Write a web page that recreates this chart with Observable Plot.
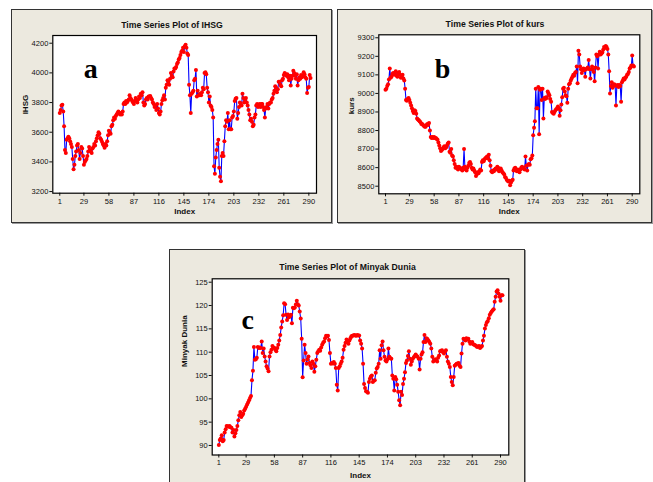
<!DOCTYPE html>
<html><head><meta charset="utf-8">
<script src="https://cdn.jsdelivr.net/npm/d3@7"></script>
<script src="https://cdn.jsdelivr.net/npm/@observablehq/plot@0.6"></script>
<style>
html,body{margin:0;padding:0;background:#fff;}
body{width:653px;height:482px;overflow:hidden;position:relative;font-family:"Liberation Sans",Arial,sans-serif;}
.panel{position:absolute;box-sizing:border-box;background:#ECE9DF;border:1px solid #333;box-shadow:1px 1px 0 #999;}
.chart{position:absolute;}
.chart svg{display:block;overflow:visible;}
</style></head><body>
<script>
const xTickLabels = [1,29,58,87,116,145,174,203,232,261,290];

const ihsgTicks = [3200,3400,3600,3800,4000,4200];
const kursTicks = [8500,8600,8700,8800,8900,9000,9100,9200,9300];
const minyakTicks = [90,95,100,105,110,115,120,125];

const ihsg = [
3730,3750,3780,3785,3740,3640,3480,3460,3550,3560,
3570,3560,3540,3520,3500,3420,3350,3380,3440,3470,
3510,3520,3480,3420,3460,3500,3490,3440,3380,3400,
3410,3420,3440,3470,3500,3480,3470,3460,3490,3500,
3520,3510,3540,3560,3580,3600,3590,3560,3550,3535,
3520,3510,3495,3520,3510,3540,3580,3610,3600,3590,
3640,3650,3680,3700,3690,3710,3720,3730,3740,3730,
3720,3730,3720,3740,3790,3800,3790,3810,3800,3810,
3820,3850,3830,3820,3810,3800,3790,3810,3830,3810,
3800,3820,3840,3830,3860,3850,3870,3800,3780,3790,
3820,3830,3820,3840,3840,3845,3830,3820,3800,3790,
3770,3780,3750,3790,3760,3730,3720,3740,3790,3815,
3830,3850,3820,3900,3920,3950,3940,3920,3960,4000,
3980,3970,4010,4030,4030,4040,4060,4070,4090,4100,
4120,4140,4150,4170,4140,4180,4190,4170,4130,4120,
3920,3850,3730,3860,3870,3880,3950,3960,4020,3840,
3880,3850,3850,3860,3850,3870,3900,3890,4000,4005,
3990,3900,3870,3800,3840,3780,3770,3750,3700,3370,
3320,3430,3480,3520,3550,3360,3300,3270,3440,3460,
3440,3540,3640,3680,3670,3730,3620,3680,3620,3620,
3700,3710,3740,3810,3825,3830,3690,3730,3770,3800,
3790,3780,3860,3830,3800,3820,3830,3800,3780,3750,
3720,3680,3690,3670,3640,3650,3700,3720,3780,3790,
3770,3780,3790,3770,3790,3790,3770,3750,3700,3760,
3770,3790,3760,3790,3800,3800,3820,3830,3860,3880,
3910,3900,3870,3890,3940,3940,3920,3910,3950,3960,
3985,4000,3990,3980,3990,3970,3950,3980,3915,3960,
3980,4015,4000,3980,3960,3990,3915,3950,3970,3960,
3985,3970,3980,4005,3990,3970,3960,3865,3900,3905,
3985,3965
];

const kurs = [
9020,9025,9040,9050,9075,9135,9085,9090,9105,9110,
9100,9110,9120,9095,9090,9110,9115,9100,9085,9090,
9100,9080,9070,9025,8965,8960,8970,8975,8965,8950,
8935,8920,8905,8895,8910,8905,8890,8865,8860,8855,
8850,8845,8835,8835,8830,8825,8820,8820,8830,8835,
8830,8840,8800,8765,8760,8765,8760,8765,8760,8760,
8755,8750,8735,8720,8705,8690,8695,8700,8710,8715,
8705,8710,8720,8730,8735,8685,8680,8700,8665,8660,
8640,8620,8600,8605,8595,8590,8605,8600,8595,8590,
8585,8600,8700,8605,8590,8585,8600,8610,8625,8630,
8620,8600,8590,8595,8585,8575,8555,8565,8575,8570,
8580,8590,8585,8630,8640,8635,8645,8650,8655,8660,
8650,8670,8640,8610,8580,8575,8585,8580,8590,8595,
8590,8605,8600,8580,8590,8595,8585,8575,8570,8565,
8550,8545,8535,8530,8525,8530,8505,8520,8530,8535,
8585,8595,8600,8585,8580,8590,8580,8575,8590,8600,
8605,8595,8600,8590,8660,8610,8585,8615,8620,8615,
8645,8650,8665,8775,8815,8850,9025,8920,8920,9035,
8780,9020,9025,8965,9025,8865,8975,8970,8980,8975,
9010,9000,8990,8970,8955,8900,8895,8890,8900,8910,
8915,8920,8930,8920,8880,8910,8940,8980,9025,9030,
9010,8990,8985,8950,9025,9050,9055,9070,9080,9090,
9100,9095,9110,9115,9145,9055,9230,9210,9145,9130,
9110,9125,9135,9125,9090,9130,9135,9140,9180,9130,
9080,9130,9145,9130,9115,9065,9140,9210,9200,9135,
9210,9225,9210,9215,9220,9235,9250,9245,9255,9250,
9240,9210,9120,9000,9040,9060,9030,9040,9050,9045,
8935,9040,9045,9035,9045,9040,8955,9060,9070,9080,
9075,9085,9090,9100,9105,9115,9135,9140,9150,9205,
9150,9145
];

const minyak = [
90.1,91.2,91.5,92.2,90.9,91.2,92.8,93.5,94.2,94.1,
94.0,94.2,93.9,93.8,92.8,93.3,91.9,92.6,93.3,94.2,
95.4,96.5,97.2,96.1,96.5,96.8,97.5,97.9,98.3,98.8,
99.2,99.7,100.2,100.6,104.0,106.0,111.1,108.4,108.5,108.8,
111.1,110.9,111.0,110.9,112.3,109.8,110.8,109.1,108.0,107.0,
106.5,105.9,109.1,110.0,110.5,111.3,111.0,110.9,110.5,110.2,
110.9,111.6,112.5,113.7,115.3,116.6,117.9,120.5,120.3,118.0,
116.9,118.1,117.5,117.7,118.0,116.2,119.5,119.4,119.6,120.2,
121.0,120.3,120.0,118.7,117.2,112.9,104.6,108.2,111.6,109.8,
107.5,108.5,109.1,107.7,107.2,106.6,108.0,107.5,105.8,107.0,
108.4,109.8,110.2,110.5,110.3,111.0,111.6,112.0,112.3,113.0,
113.5,113.4,113.5,112.6,109.8,107.5,107.7,107.6,107.9,107.5,
106.6,103.0,101.8,106.6,107.0,107.5,108.0,108.8,110.5,111.3,
112.0,112.7,112.3,111.8,112.5,113.0,113.4,113.5,113.6,113.7,
113.6,113.5,113.7,113.6,113.6,112.5,111.8,110.8,107.5,103.2,
102.3,101.6,101.5,101.3,103.6,104.3,104.8,105.0,103.6,103.9,
104.0,105.6,106.5,106.8,107.5,110.4,108.6,111.5,112.3,110.4,
109.0,108.2,108.0,108.5,110.8,109.0,108.7,108.6,105.0,104.3,
101.8,104.7,104.2,103.0,101.5,99.7,98.6,101.5,100.8,103.2,
104.3,105.7,107.7,108.2,109.2,110.2,108.6,107.3,108.0,108.6,
108.9,109.2,109.5,109.2,109.0,108.6,106.3,108.6,109.5,110.0,
112.2,113.7,112.2,113.0,112.8,112.5,112.2,111.8,110.8,109.0,
108.0,108.3,108.5,108.2,108.0,108.8,109.3,110.2,110.3,110.4,
110.0,109.7,110.1,110.4,109.0,108.0,107.5,106.8,104.7,103.6,
102.9,104.7,107.1,107.3,107.5,107.6,107.7,107.1,106.8,109.7,
111.8,112.9,112.7,112.5,113.0,112.8,112.9,112.3,111.8,112.0,
112.2,111.7,111.6,111.5,111.3,111.1,111.2,111.3,110.9,111.1,
111.3,112.5,113.5,115.1,115.8,116.4,116.7,117.3,118.0,118.4,
118.7,119.0,119.2,120.8,121.9,123.0,123.3,122.6,121.9,121.0,
122.2,122.2
];

const titles = ["Time Series Plot of IHSG", "Time Series Plot of kurs", "Time Series Plot of Minyak Dunia"];
const yLabels = ["IHSG", "kurs", "Minyak Dunia"];
const letters = ["a", "b", "c"];

function makePanel(cfg) {
  const {box, plot, values, yTicks, xDomain, yDomain, title, ylab, letter, titleX, titleBase, indexBase, ylabX, letterPos} = cfg;
  const W = box.x1 - box.x0, H = box.y1 - box.y0;
  const bg = document.createElement("div");
  bg.className = "panel";
  Object.assign(bg.style, {left: box.x0 + "px", top: box.y0 + "px", width: W + "px", height: H + "px"});
  document.body.appendChild(bg);

  const data = values.map((v, i) => ({i: i + 1, v}));
  const pcx = (plot.x0 + plot.x1) / 2;
  const chart = Plot.plot({
    width: W, height: H,
    marginLeft: plot.x0 - box.x0, marginRight: box.x1 - plot.x1,
    marginTop: plot.y0 - box.y0, marginBottom: box.y1 - plot.y1,
    style: {background: "transparent", fontFamily: "'Liberation Sans', Arial, sans-serif", fontSize: "7.5px", color: "#111", overflow: "visible"},
    x: {domain: xDomain},
    y: {domain: yDomain},
    marks: [
      Plot.frame({fill: "white"}),
      Plot.axisX({ticks: xTickLabels, tickSize: 3, tickPadding: 2, tickFormat: d => String(d), label: null}),
      Plot.axisY({ticks: yTicks, tickSize: 3, tickPadding: 1.5, tickFormat: d => String(d), label: null}),
      Plot.line(data, {x: "i", y: "v", stroke: "#0000ff", strokeWidth: 1.1}),
      Plot.dot(data, {x: "i", y: "v", r: 2, fill: "#ff0000", stroke: "none"}),
      Plot.frame({stroke: "black", strokeWidth: 1.2}),
      Plot.text([title], {text: d => d, frameAnchor: "top", dx: titleX - pcx, dy: titleBase - plot.y0, lineAnchor: "bottom", fontSize: 8.7, fontWeight: "bold", fill: "#111"}),
      Plot.text(["Index"], {text: d => d, frameAnchor: "bottom", dy: indexBase - plot.y1, lineAnchor: "bottom", fontSize: 8, fontWeight: "bold", fill: "#111"}),
      Plot.text([ylab], {text: d => d, frameAnchor: "left", dx: ylabX - plot.x0, rotate: -90, fontSize: 8, fontWeight: "bold", fill: "#111"}),
      Plot.text([letter], {text: d => d, frameAnchor: "top-left", dx: letterPos[0] - plot.x0, dy: letterPos[1] - plot.y0, lineAnchor: "bottom", textAnchor: "start", fontFamily: "'Liberation Serif', 'DejaVu Serif', serif", fontWeight: "bold", fontSize: 28, fill: "#000"})
    ]
  });
  const wrap = document.createElement("div");
  wrap.className = "chart";
  Object.assign(wrap.style, {left: box.x0 + "px", top: box.y0 + "px", width: W + "px", height: H + "px"});
  wrap.appendChild(chart);
  document.body.appendChild(wrap);
}

makePanel({
  box: {x0: 11, y0: 9, x1: 332, y1: 223},
  plot: {x0: 52.3, y0: 35, x1: 316, y1: 192.7},
  values: ihsg, yTicks: ihsgTicks,
  xDomain: [-7.1, 298.9], yDomain: [3189, 4252],
  title: titles[0], ylab: yLabels[0], letter: letters[0],
  titleX: 171.5, titleBase: 27.7, indexBase: 213.5, ylabX: 25, letterPos: [83.3, 77.3]
});
makePanel({
  box: {x0: 337, y0: 9, x1: 652, y1: 223},
  plot: {x0: 378.3, y0: 34.3, x1: 639.3, y1: 193.3},
  values: kurs, yTicks: kursTicks,
  xDomain: [-6.85, 298.9], yDomain: [8459, 9316],
  title: titles[1], ylab: yLabels[1], letter: letters[1],
  titleX: 494.5, titleBase: 26.7, indexBase: 213.5, ylabX: 350.5, letterPos: [434.3, 77.3]
});
makePanel({
  box: {x0: 169, y0: 249, x1: 525, y1: 490},
  plot: {x0: 211.7, y0: 278.3, x1: 508.3, y1: 454.5},
  values: minyak, yTicks: minyakTicks,
  xDomain: [-5.8, 298.5], yDomain: [87.96, 125.73],
  title: titles[2], ylab: yLabels[2], letter: letters[2],
  titleX: 347, titleBase: 269.5, indexBase: 477, ylabX: 184.3, letterPos: [241, 328.3]
});
</script>
</body></html>
